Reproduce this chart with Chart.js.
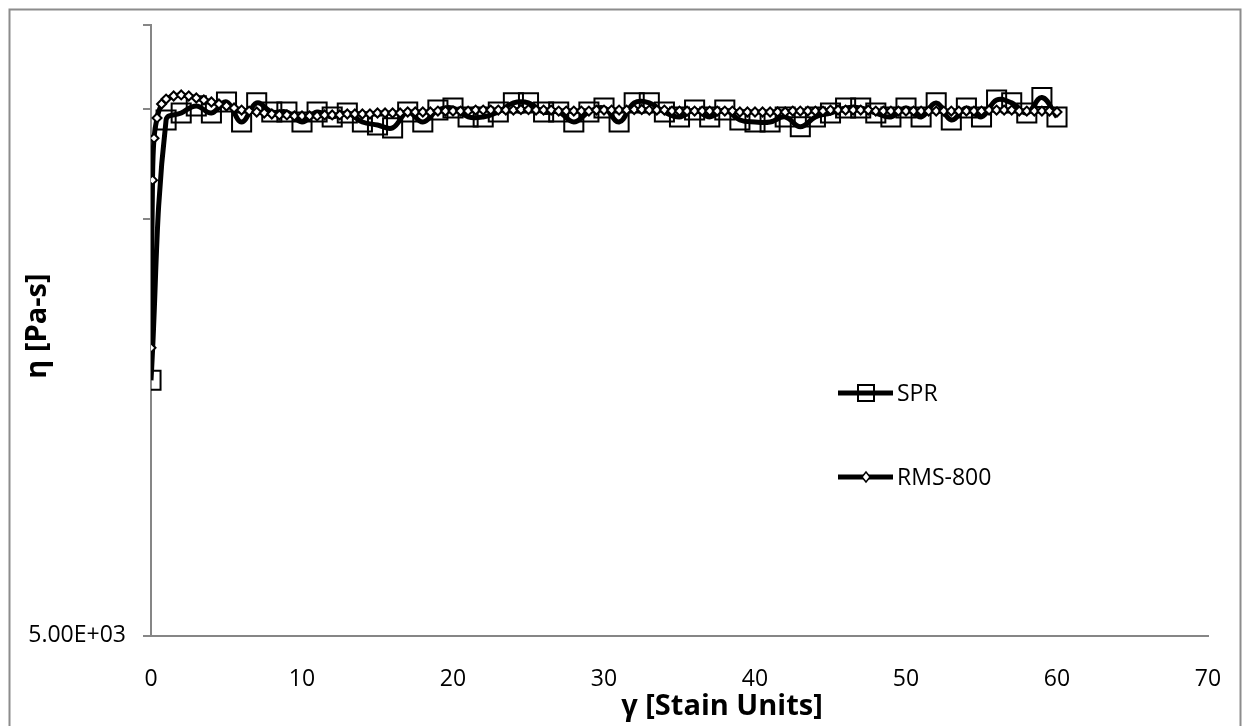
<!DOCTYPE html>
<html>
<head>
<meta charset="utf-8">
<title>eta vs strain</title>
<script src="https://cdn.jsdelivr.net/npm/chart.js@4.4.1/dist/chart.umd.min.js"></script>
<style>
html, body { margin: 0; padding: 0; background: #fff; }
#wrap { position: relative; width: 1249px; height: 726px; }
</style>
</head>
<body>
<div id="wrap"><canvas id="chart" width="1249" height="726"></canvas></div>
<script>
// data
var sprX = [0, 1, 2, 3, 4, 5, 6, 7, 8, 9, 10, 11, 12, 13, 14, 15, 16, 17, 18, 19, 20,
	21, 22, 23, 24, 25, 26, 27, 28, 29, 30, 31, 32, 33, 34, 35, 36, 37, 38, 39, 40,
	41, 42, 43, 44, 45, 46, 47, 48, 49, 50, 51, 52, 53, 54, 55, 56, 57, 58, 59, 60];
var sprY = [20700, 88200, 91700, 95400, 91700, 97500, 87200, 97000, 92200, 92200, 87200,
	92200, 89700, 91700, 87200, 85800, 84400, 92200, 87200, 93200, 94300,
	89700, 89700, 92200, 97000, 97000, 92200, 92200, 87200, 92200, 94300,
	87200, 97000, 97000, 92200, 89700, 93200, 89700, 93200, 88200, 87200,
	87200, 89700, 84900, 89700, 91700, 94300, 94300, 91700, 89700, 94300,
	89700, 97000, 88200, 94300, 89700, 98600, 97000, 91700, 100000, 89700];

var rmsX = [0, 0.1, 0.2, 0.4, 0.7, 1, 1.5, 2, 2.5, 3, 3.5, 4, 4.5, 5, 5.5, 6, 6.5, 7, 7.5, 8, 8.5, 9, 9.5, 10,
	10.5, 11, 11.5, 12, 12.5, 13, 13.5, 14, 14.5, 15, 15.5, 16, 16.5, 17, 17.5, 18, 18.5, 19, 19.5, 20,
	20.5, 21, 21.5, 22, 22.5, 23, 23.5, 24, 24.5, 25, 25.5, 26, 26.5, 27, 27.5, 28, 28.5, 29, 29.5, 30,
	30.5, 31, 31.5, 32, 32.5, 33, 33.5, 34, 34.5, 35, 35.5, 36, 36.5, 37, 37.5, 38, 38.5, 39, 39.5, 40,
	40.5, 41, 41.5, 42, 42.5, 43, 43.5, 44, 44.5, 45, 45.5, 46, 46.5, 47, 47.5, 48, 48.5, 49, 49.5, 50,
	50.5, 51, 51.5, 52, 52.5, 53, 53.5, 54, 54.5, 55, 55.5, 56, 56.5, 57, 57.5, 58, 58.5, 59, 59.5, 60];
var rmsY = [24800, 63100, 79700, 89200, 96400, 99100, 100800, 101400, 100800, 99700, 98600, 97500, 96400, 95300, 94300, 93200, 92700, 92200, 91700, 91200, 90700, 90700, 90200, 90200,
	90200, 90200, 90700, 90700, 90700, 91200, 91200, 91200, 91200, 91700, 91700, 91700, 91700, 92200, 92200, 92200, 92200, 92700, 92700, 92700,
	92700, 92700, 93200, 93200, 93200, 93200, 93200, 93200, 93500, 93500, 93200, 93200, 93200, 92700, 92700, 92700, 92700, 92700, 93200, 93200,
	93200, 93200, 93200, 93500, 93500, 93200, 93200, 93200, 92700, 92700, 92700, 92700, 92700, 92700, 92700, 92700, 92700, 92200, 92200, 92200,
	92200, 92200, 92200, 92200, 92700, 92700, 92700, 92700, 92700, 93200, 93200, 93200, 93200, 93200, 93200, 92700, 92700, 92700, 92700, 92700,
	92700, 92700, 92700, 92700, 92700, 92700, 92700, 92700, 92700, 92700, 93200, 93200, 93200, 93200, 92700, 92700, 92700, 92700, 92700, 92200];

var xTicks = [0, 10, 20, 30, 40, 50, 60, 70];
var yTicks = [5000, 50800, 93500, 150000];
var yTickLabels = ["5.00E+03", "", "", ""];
var yMin = 5000;
var yMax = 150000;

var axisGray = "#868686";
var font = "'Open Sans', 'Noto Sans', sans-serif";

function pts(xs, ys) {
	var out = [];
	for (var i = 0; i < xs.length; i++) out.push({x: xs[i], y: ys[i]});
	return out;
}

// titles, legend and outer frame
var extras = {
	id: "extras",
	afterDraw: function(chart) {
		var ctx = chart.ctx;
		ctx.save();
		// frame
		ctx.strokeStyle = "#8c8c8c";
		ctx.lineWidth = 2;
		ctx.strokeRect(9.5, 9.5, 1231, 760);

		// axis titles
		ctx.fillStyle = "#000";
		ctx.font = "bold 29px " + font;
		ctx.textAlign = "center";
		ctx.textBaseline = "middle";
		ctx.fillText("γ [Stain Units]", 722, 707);
		ctx.save();
		ctx.translate(38, 326);
		ctx.rotate(-Math.PI / 2);
		ctx.fillText("η [Pa-s]", 0, 0);
		ctx.restore();

		// legend
		ctx.strokeStyle = "#000";
		ctx.lineWidth = 5;
		ctx.beginPath(); ctx.moveTo(838, 393); ctx.lineTo(893, 393); ctx.stroke();
		ctx.beginPath(); ctx.moveTo(838, 477); ctx.lineTo(893, 477); ctx.stroke();
		ctx.lineWidth = 2;
		ctx.strokeRect(858, 385, 16, 16);
		ctx.lineWidth = 1.5;
		ctx.fillStyle = "#fff";
		ctx.beginPath();
		ctx.moveTo(866, 472); ctx.lineTo(870, 477); ctx.lineTo(866, 482); ctx.lineTo(862, 477);
		ctx.closePath(); ctx.fill(); ctx.stroke();
		ctx.fillStyle = "#000";
		ctx.font = "23px " + font;
		ctx.textAlign = "left";
		ctx.fillText("SPR", 897, 394);
		ctx.fillText("RMS-800", 897, 478);
		ctx.restore();
	}
};

var chart = new Chart(document.getElementById("chart"), {
	type: "line",
	data: {
		datasets: [{
			label: "SPR",
			data: pts(sprX, sprY),
			borderColor: "#000",
			borderWidth: 5,
			tension: 0.4,
			pointStyle: "rect",
			pointRadius: 13.5,
			pointBorderWidth: 2,
			pointBorderColor: "#000",
			pointBackgroundColor: "rgba(0,0,0,0)",
			order: 2
		}, {
			label: "RMS-800",
			data: pts(rmsX, rmsY),
			borderColor: "#000",
			borderWidth: 5,
			tension: 0.4,
			pointStyle: "rectRot",
			pointRadius: 4.5,
			pointBorderWidth: 2,
			pointBorderColor: "#000",
			pointBackgroundColor: "#fff",
			order: 1
		}]
	},
	options: {
		responsive: false,
		animation: false,
		devicePixelRatio: 1,
		layout: { padding: { top: 24.6, right: 41, bottom: 0, left: 0 } },
		plugins: {
			legend: { display: false },
			tooltip: { enabled: false }
		},
		scales: {
			x: {
				type: "linear",
				min: 0,
				max: 70,
				afterBuildTicks: function(scale) {
					scale.ticks = xTicks.map(function(v) { return {value: v}; });
				},
				afterFit: function(scale) { scale.height = 90.5; },
				grid: { display: false },
				border: { display: true, color: axisGray, width: 2 },
				ticks: { color: "#000", font: { family: font, size: 23 }, padding: 22, maxRotation: 0 }
			},
			y: {
				type: "logarithmic",
				min: yMin,
				max: yMax,
				bounds: "data",
				afterBuildTicks: function(scale) {
					scale.ticks = yTicks.map(function(v) { return {value: v}; });
				},
				afterFit: function(scale) {
					scale.width = 151;
					scale.paddingTop = 0;
					scale.paddingBottom = 0;
				},
				grid: { display: true, drawOnChartArea: false, drawTicks: true, tickLength: 8, color: axisGray, lineWidth: 2 },
				border: { display: true, color: axisGray, width: 2 },
				ticks: {
					color: "#000",
					font: { family: font, size: 23 },
					padding: 17,
					autoSkip: false,
					callback: function(v, i) { return yTickLabels[i]; }
				}
			}
		}
	},
	plugins: [extras]
});
</script>
</body>
</html>
